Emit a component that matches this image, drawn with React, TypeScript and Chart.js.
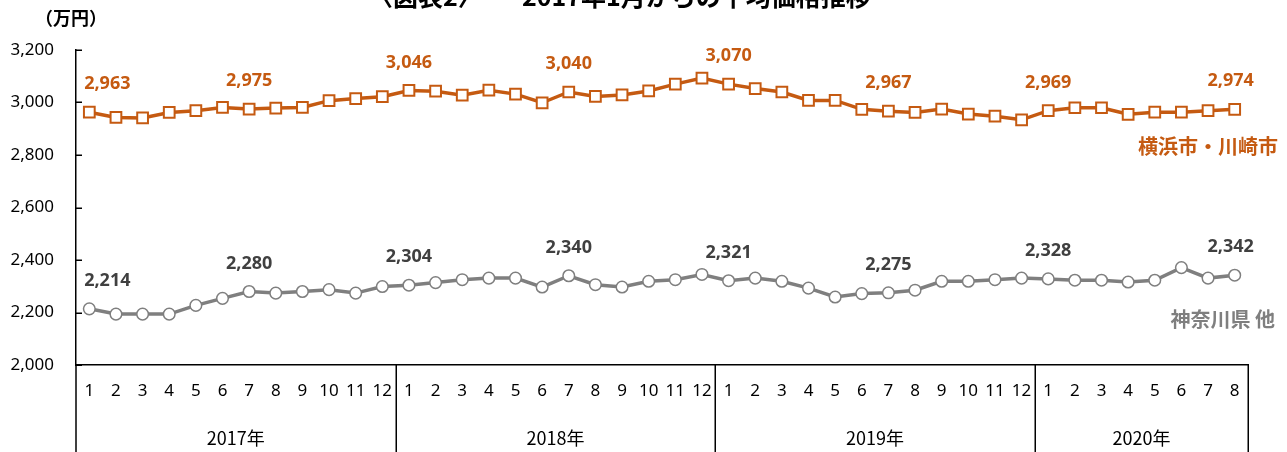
import React, { useEffect, useRef } from 'react';
import { Chart, registerables } from 'chart.js';

Chart.register(...registerables);

// ---- data ----
const months2017 = ['1', '2', '3', '4', '5', '6', '7', '8', '9', '10', '11', '12'];
const months2018 = ['1', '2', '3', '4', '5', '6', '7', '8', '9', '10', '11', '12'];
const months2019 = ['1', '2', '3', '4', '5', '6', '7', '8', '9', '10', '11', '12'];
const months2020 = ['1', '2', '3', '4', '5', '6', '7', '8'];
const monthLabels = [...months2017, ...months2018, ...months2019, ...months2020];

const yearLabels = ['2017年', '2018年', '2019年', '2020年'];
const yearLengths = [12, 12, 12, 8];

const yokohamaKawasaki = [
  2963, 2943, 2941, 2962, 2969, 2981, 2975, 2979, 2981, 3007, 3015, 3022,
  3046, 3043, 3028, 3047, 3032, 2999, 3040, 3023, 3029, 3044, 3070, 3093,
  3070, 3053, 3040, 3008, 3008, 2974, 2967, 2962, 2975, 2956, 2948, 2934,
  2969, 2980, 2980, 2955, 2963, 2963, 2969, 2974,
];
const kanagawaOther = [
  2214, 2194, 2194, 2194, 2227, 2254, 2280, 2274, 2280, 2287, 2274, 2299,
  2304, 2314, 2325, 2331, 2331, 2297, 2340, 2306, 2297, 2319, 2325, 2345,
  2321, 2331, 2319, 2293, 2259, 2272, 2275, 2285, 2319, 2319, 2325, 2331,
  2328, 2323, 2323, 2316, 2323, 2371, 2331, 2342,
];
const labeledIndices = [0, 6, 12, 18, 24, 30, 36, 43];
const seriesNames = ['横浜市・川崎市', '神奈川県 他'];
const yMin = 2000;
const yMax = 3200;
const yStep = 200;

const titleLeft = '〈図表2〉';
const titleRight = '2017年1月からの平均価格推移';
const unitLabel = '（万円）';

const ORANGE = '#C55A11';
const GRAY = '#7F7F7F';
const GRAY_LABEL = '#404040';
const NUM_FONT = '"Noto Sans", "Noto Sans CJK JP", sans-serif';
const CJK_FONT = '"Noto Sans CJK JP", "Noto Sans", sans-serif';

const fmt = new Intl.NumberFormat('en-US');

const overlayPlugin = {
  id: 'overlay',
  afterDraw(chart: any) {
    const { ctx, chartArea, scales } = chart;
    const xs = scales.x;
    const ys = scales.y;
    ctx.save();

    // title (cut off at top)
    ctx.fillStyle = '#000';
    ctx.font = `bold 25px ${CJK_FONT}`;
    ctx.textBaseline = 'alphabetic';
    ctx.textAlign = 'left';
    ctx.fillText(titleLeft, 368, 6);
    ctx.fillText(titleRight, 522, 6);

    // unit label
    ctx.font = `bold 18px ${CJK_FONT}`;
    ctx.textAlign = 'center';
    ctx.textBaseline = 'middle';
    ctx.fillText(unitLabel, 71, 18);

    // y tick marks (inside)
    ctx.strokeStyle = '#000';
    ctx.lineWidth = 1.5;
    for (let v = yMin; v <= yMax; v += yStep) {
      const py = Math.round(ys.getPixelForValue(v)) + 0.25;
      ctx.beginPath();
      ctx.moveTo(chartArea.left, py);
      ctx.lineTo(chartArea.left + 6, py);
      ctx.stroke();
    }

    // category frame lines
    const bottom = chart.height;
    let start = 0;
    const bounds: number[] = [-0.5];
    yearLengths.forEach((len) => {
      start += len;
      bounds.push(start - 0.5);
    });
    bounds.forEach((b, i) => {
      const px = i === 0 ? chartArea.left : Math.round(xs.getPixelForValue(b)) + 0.25;
      ctx.beginPath();
      ctx.moveTo(px, chartArea.bottom);
      ctx.lineTo(px, bottom);
      ctx.stroke();
    });

    // year labels
    ctx.font = `18px ${CJK_FONT}`;
    ctx.fillStyle = '#000';
    ctx.textAlign = 'center';
    ctx.textBaseline = 'middle';
    start = 0;
    yearLengths.forEach((len, i) => {
      const mid = start + (len - 1) / 2;
      ctx.fillText(yearLabels[i], xs.getPixelForValue(mid), 438);
      start += len;
    });

    // data labels
    const drawLabels = (dsIndex: number, color: string) => {
      const meta = chart.getDatasetMeta(dsIndex);
      const values = chart.data.datasets[dsIndex].data as number[];
      ctx.font = `bold 18px ${NUM_FONT}`;
      ctx.fillStyle = color;
      ctx.textAlign = 'center';
      ctx.textBaseline = 'middle';
      labeledIndices.forEach((idx, k) => {
        const el = meta.data[idx];
        let dx = 0;
        if (k === 0) dx = 18;
        if (k === labeledIndices.length - 1) dx = -4;
        ctx.fillText(fmt.format(values[idx]), el.x + dx, el.y - 28);
      });
    };
    drawLabels(0, ORANGE);
    drawLabels(1, GRAY_LABEL);

    // series names
    ctx.font = `bold 20px ${CJK_FONT}`;
    ctx.textAlign = 'right';
    ctx.textBaseline = 'middle';
    ctx.fillStyle = ORANGE;
    ctx.fillText(seriesNames[0], 1278, 146);
    ctx.fillStyle = GRAY;
    ctx.fillText(seriesNames[1], 1275, 319);

    ctx.restore();
  },
};

export default function App() {
  const canvasRef = useRef<HTMLCanvasElement | null>(null);

  useEffect(() => {
    if (!canvasRef.current) return;
    const chart = new Chart(canvasRef.current, {
      type: 'line',
      data: {
        labels: monthLabels,
        datasets: [
          {
            label: seriesNames[0],
            data: yokohamaKawasaki,
            borderColor: ORANGE,
            borderWidth: 3.5,
            pointStyle: 'rect',
            pointRadius: 7.6,
            pointBorderWidth: 2,
            pointBorderColor: ORANGE,
            pointBackgroundColor: '#FFFFFF',
            tension: 0,
          },
          {
            label: seriesNames[1],
            data: kanagawaOther,
            borderColor: GRAY,
            borderWidth: 3.5,
            pointStyle: 'circle',
            pointRadius: 5.8,
            pointBorderWidth: 1.5,
            pointBorderColor: GRAY,
            pointBackgroundColor: '#FFFFFF',
            tension: 0,
          },
        ],
      },
      options: {
        responsive: true,
        maintainAspectRatio: false,
        animation: false,
        layout: { padding: { left: 0, top: 50, right: 39, bottom: 0 } },
        plugins: {
          legend: { display: false },
          title: { display: false },
          tooltip: { enabled: false },
        },
        scales: {
          x: {
            type: 'category',
            offset: true,
            grid: { display: false, drawTicks: false },
            border: { display: true, color: '#000', width: 1.5 },
            ticks: {
              autoSkip: false,
              maxRotation: 0,
              minRotation: 0,
              color: '#000',
              padding: 16,
              font: { family: NUM_FONT, size: 17 },
            },
            afterFit: (scale: any) => {
              scale.height = 87;
            },
          },
          y: {
            min: yMin,
            max: yMax,
            grid: { display: false, drawTicks: false },
            border: { display: true, color: '#000', width: 1.5 },
            ticks: {
              stepSize: yStep,
              color: '#000',
              padding: 22,
              font: { family: NUM_FONT, size: 17 },
              callback: (v: any) => fmt.format(Number(v)),
            },
            afterFit: (scale: any) => {
              scale.width = 76;
            },
          },
        },
      },
      plugins: [overlayPlugin],
    });
    return () => chart.destroy();
  }, []);

  return (
    <div style={{ position: 'fixed', left: 0, top: 0, width: 1287, height: 452, background: '#fff' }}>
      <canvas ref={canvasRef} />
    </div>
  );
}
